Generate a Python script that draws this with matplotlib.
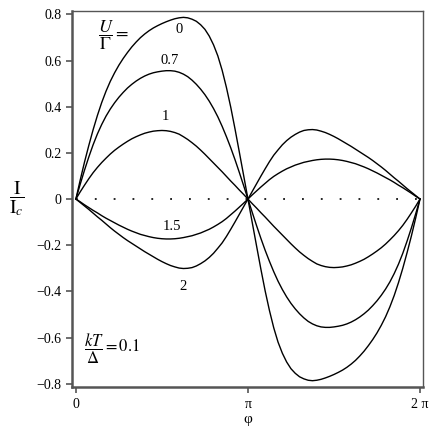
import numpy as np
import matplotlib
matplotlib.use("Agg")
import matplotlib.pyplot as plt

#--------------------------------------------------------------------------------------
#Data (first half 0..pi, phi in units of pi)
phi_half = [0, 0.025, 0.05, 0.075, 0.1, 0.125, 0.15, 0.175, 0.2, 0.225, 0.25,
            0.275, 0.3, 0.325, 0.35, 0.375, 0.4, 0.425, 0.45, 0.475, 0.5,
            0.525, 0.55, 0.575, 0.6, 0.625, 0.65, 0.675, 0.7, 0.725, 0.75,
            0.775, 0.8, 0.825, 0.85, 0.875, 0.9, 0.925, 0.95, 0.975, 1.0]

I_u0  = [0, 0.082, 0.16, 0.232, 0.30, 0.362, 0.418, 0.467, 0.51, 0.547, 0.58,
         0.609, 0.635, 0.659, 0.68, 0.699, 0.715, 0.729, 0.741, 0.751, 0.76,
         0.768, 0.775, 0.781, 0.785, 0.787, 0.785, 0.779, 0.770, 0.755, 0.735,
         0.706, 0.668, 0.62, 0.558, 0.483, 0.398, 0.303, 0.203, 0.102, 0]
I_u07 = [0, 0.064, 0.125, 0.182, 0.235, 0.282, 0.323, 0.359, 0.39, 0.417, 0.441,
         0.462, 0.481, 0.497, 0.511, 0.523, 0.533, 0.541, 0.547, 0.551, 0.554,
         0.556, 0.556, 0.554, 0.549, 0.541, 0.53, 0.515, 0.497, 0.476, 0.452,
         0.424, 0.392, 0.356, 0.315, 0.27, 0.222, 0.17, 0.115, 0.058, 0]
I_u1  = [0, 0.031, 0.06, 0.088, 0.114, 0.137, 0.158, 0.177, 0.195, 0.211, 0.225,
         0.238, 0.25, 0.261, 0.27, 0.278, 0.285, 0.29, 0.294, 0.296, 0.297,
         0.296, 0.293, 0.288, 0.281, 0.27, 0.258, 0.244, 0.229, 0.212, 0.194,
         0.175, 0.156, 0.137, 0.118, 0.098, 0.078, 0.059, 0.039, 0.02, 0]
I_u15 = [0, -0.012, -0.025, -0.037, -0.049, -0.06, -0.072, -0.083, -0.093, -0.103, -0.113,
         -0.122, -0.131, -0.139, -0.146, -0.153, -0.158, -0.163, -0.167, -0.17, -0.172,
         -0.173, -0.173, -0.172, -0.17, -0.167, -0.163, -0.159, -0.153, -0.147, -0.139,
         -0.131, -0.121, -0.11, -0.098, -0.084, -0.068, -0.052, -0.035, -0.018, 0]
I_u2  = [0, -0.015, -0.03, -0.045, -0.061, -0.077, -0.092, -0.108, -0.124, -0.139, -0.153,
         -0.167, -0.18, -0.192, -0.204, -0.216, -0.228, -0.239, -0.25, -0.261, -0.271,
         -0.28, -0.288, -0.294, -0.299, -0.301, -0.3, -0.297, -0.29, -0.28, -0.268,
         -0.253, -0.235, -0.213, -0.19, -0.162, -0.131, -0.099, -0.066, -0.033, 0]

curve_labels = ["0", "0.7", "1", "1.5", "2"]
label_pos = [(0.60, 0.735), (0.547, 0.60), (0.521, 0.356), (0.556, -0.118), (0.622, -0.38)]

yticks = [-0.8, -0.6, -0.4, -0.2, 0, 0.2, 0.4, 0.6, 0.8]
ytick_labels = ["\u22120.8", "\u22120.6", "\u22120.4", "\u22120.2", "0", "0.2", "0.4", "0.6", "0.8"]
xticks = [0, 1, 2]
xtick_labels = ["0", "\u03c0", "2 \u03c0"]

#--------------------------------------------------------------------------------------
#Plot
plt.rcParams['font.family'] = ['Liberation Serif', 'DejaVu Serif']
plt.rcParams['mathtext.fontset'] = 'stix'

fig = plt.figure(figsize=(4.36, 4.36), dpi=100)
ax = fig.add_axes([0.165, 0.112, 0.805, 0.863])

ph = np.array(phi_half)
phi_full = np.concatenate([ph, 2 - ph[::-1][1:]])

for vals in [I_u0, I_u07, I_u1, I_u15, I_u2]:
    v = np.array(vals)
    full = np.concatenate([v, -v[::-1][1:]])
    ax.plot(phi_full, full, color="black", lw=1.0)

ax.plot([0, 2], [0, 0], color="black", lw=1.2, linestyle=(0, (1.1, 10.2)))

for txt, (x, y) in zip(curve_labels, label_pos):
    ax.text(x, y, txt, fontsize=10.5, ha="center", va="center")

ax.text(0.13, 0.71, r"$\dfrac{U}{\Gamma}=$", fontsize=13, ha="left", va="center")
ax.text(0.05, -0.65, r"$\dfrac{kT}{\Delta}=0.1$", fontsize=12, ha="left", va="center")

ax.set_xlim(-0.023, 2.017)
ax.set_ylim(-0.815, 0.815)
ax.set_xticks(xticks)
ax.set_xticklabels(xtick_labels, fontsize=10)
ax.set_yticks(yticks)
ax.set_yticklabels(ytick_labels, fontsize=10)
ax.tick_params(direction="out", length=4, width=1.2, color="#555555")

for s in ax.spines.values():
    s.set_color("#555555")
    s.set_linewidth(1.0)
ax.spines["left"].set_linewidth(1.8)
ax.spines["bottom"].set_linewidth(1.8)

ax.set_xlabel("\u03c6", fontsize=11, labelpad=2)
ax.set_ylabel(r"$\dfrac{\mathrm{I}}{\mathrm{I}_c}$", fontsize=14, rotation=0, labelpad=14, va="center")

fig.savefig("out.png", dpi=100)
